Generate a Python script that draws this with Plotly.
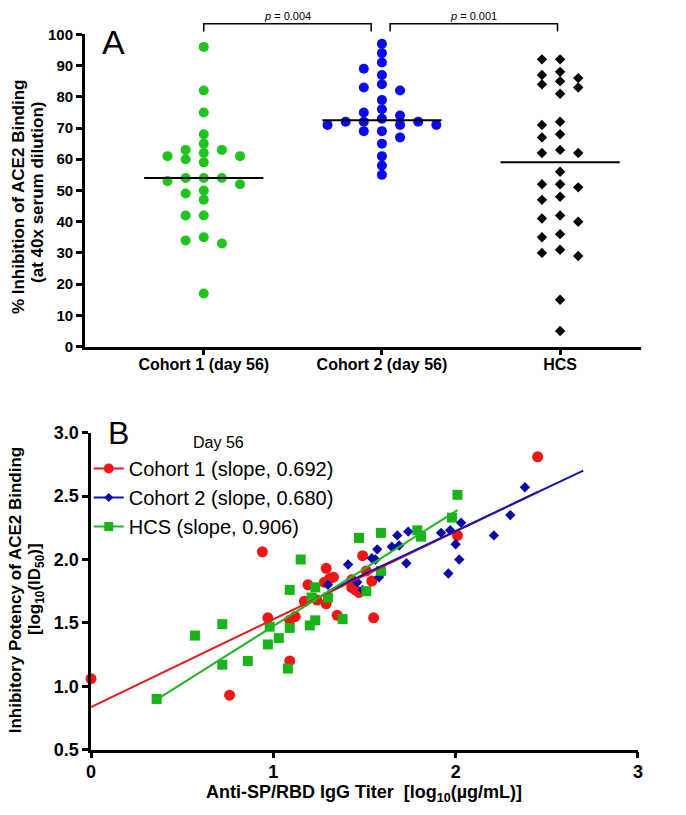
import numpy as np
import plotly.graph_objects as go

# ---------------- Panel A data (% inhibition at 40x serum dilution) ----------------
groups_a = ["Cohort 1 (day 56)", "Cohort 2 (day 56)", "HCS"]
cohort1_pct = [96, 82, 75, 68, 65, 63, 63, 62, 61, 61, 60, 59, 54, 54, 54, 53, 52,
               50, 49, 47, 42, 42, 35, 34, 33, 17]
cohort2_pct = [97, 94, 91, 89, 87, 84, 83, 82, 79, 76, 75, 74, 73, 72, 72, 72, 71,
               71, 71, 69, 69, 67, 65, 61, 58, 55]
hcs_pct = [92, 92, 88, 87, 86, 85, 84, 83, 81, 72, 71, 68, 67, 63, 62, 62, 56, 52,
           52, 51, 48, 47, 42, 41, 40, 36, 35, 31, 30, 29, 15, 5]
p_values = ["0.004", "0.001"]

# ---------------- Panel B data (log10 IgG titer vs log10 ID50) ----------------
series_b = ["Cohort 1", "Cohort 2", "HCS"]
slopes_b = [0.692, 0.680, 0.906]
fit_x_start = [0.00, 1.30, 0.36]
fit_x_end = [2.45, 2.70, 2.01]
c1_igg = [0.00, 0.76, 0.94, 1.09, 0.97, 1.09, 1.12, 1.17, 1.24, 1.29, 1.19, 1.28, 1.31,
          1.33, 1.29, 1.35, 1.43, 1.43, 1.45, 1.47, 1.49, 1.51, 1.54, 1.55, 2.01, 2.45]
c1_id50 = [1.06, 0.93, 2.06, 1.20, 1.54, 1.52, 1.55, 1.67, 1.68, 1.65, 1.80, 1.82, 1.85,
           1.86, 1.93, 1.56, 1.84, 1.78, 1.76, 1.74, 2.03, 1.91, 1.83, 1.54, 2.19, 2.81]
c2_igg = [1.30, 1.41, 1.46, 1.49, 1.54, 1.56, 1.57, 1.58, 1.59, 1.65, 1.69, 1.68, 1.74,
          1.73, 1.92, 1.97, 2.03, 2.00, 2.02, 1.96, 2.21, 2.30, 2.38]
c2_id50 = [1.80, 1.96, 1.82, 1.76, 2.01, 2.00, 2.08, 1.86, 1.89, 2.10, 2.11, 2.19, 2.22,
           1.97, 2.21, 2.23, 2.29, 2.12, 2.00, 1.89, 2.19, 2.35, 2.57]
hcs_igg = [0.36, 0.57, 0.72, 0.72, 0.86, 0.97, 0.98, 1.03, 1.09, 1.08, 1.15, 1.09, 1.23,
           1.21, 1.30, 1.20, 1.23, 1.38, 1.51, 1.47, 1.59, 1.79, 1.81, 1.59, 1.98, 2.01]
hcs_id50 = [0.90, 1.40, 1.49, 1.17, 1.20, 1.33, 1.47, 1.38, 1.46, 1.14, 2.00, 1.76, 1.78,
            1.70, 1.70, 1.48, 1.52, 1.53, 1.75, 2.17, 2.21, 2.23, 2.18, 1.91, 2.33, 2.51]

W, H = 686, 815
FONT = "Arial, Liberation Sans, Helvetica, sans-serif"


def px_x(p):
    return p / W


def px_y(p):
    return 1 - p / H


# panel A geometry (pixels)
A_left, A_right, A_top, A_bottom = 81.0, 645.0, 25.0, 345.0
cat0_px, cat_step_px = 201.7, 180.8
A_range = [(A_left - cat0_px) / cat_step_px, (A_right - cat0_px) / cat_step_px]
px_per_pct = (A_bottom - A_top) / 100.0


def swarm_offsets(values, diam_px, step_px):
    vals = np.asarray(values, dtype=float)
    order = np.argsort(-vals, kind="stable")
    cands = [0]
    for k in range(1, 30):
        cands += [-k, k]
    placed = []
    offs = np.zeros(len(vals))
    for i in order:
        y = vals[i] * px_per_pct
        for c in cands:
            if all(not (abs(c - cj) <= 1 and abs(y - yj) < diam_px) for cj, yj in placed):
                placed.append((c, y))
                offs[i] = c * step_px / cat_step_px
                break
    return offs


fig = go.Figure()

a_sets = [
    (cohort1_pct, "circle", 10, "#1fc41f", 9.0),
    (cohort2_pct, "circle", 10, "#0a0aee", 9.0),
    (hcs_pct, "diamond", 8, "#000000", 7.0),
]
for gi, (vals, sym, size, col, dpx) in enumerate(a_sets):
    offs = swarm_offsets(vals, dpx, 9.2)
    fig.add_trace(go.Scatter(
        x=gi + offs, y=vals, mode="markers", xaxis="x", yaxis="y",
        marker=dict(symbol=sym, size=size, color=col, line=dict(width=0)),
        showlegend=False, cliponaxis=False, hoverinfo="skip"))
    med = float(np.median(vals))
    half = 60.5 / cat_step_px
    fig.add_trace(go.Scatter(
        x=[gi - half, gi + half], y=[med, med], mode="lines", xaxis="x", yaxis="y",
        line=dict(color="black", width=2), showlegend=False, hoverinfo="skip"))

# ---------------- Panel B ----------------
b_sets = [
    (c1_igg, c1_id50, "circle", 11, "#f01616", "#e01e1e"),
    (c2_igg, c2_id50, "diamond", 8, "#0a0aa8", "#1414b0"),
    (hcs_igg, hcs_id50, "square", 10, "#19b419", "#25b425"),
]
for si, (xs, ys, sym, size, col, lcol) in enumerate(b_sets):
    fig.add_trace(go.Scatter(
        x=xs, y=ys, mode="markers", xaxis="x2", yaxis="y2",
        marker=dict(symbol=sym, size=size, color=col, line=dict(width=0)),
        showlegend=False, cliponaxis=False, hoverinfo="skip"))
for si, (xs, ys, sym, size, col, lcol) in enumerate(b_sets):
    xs = np.asarray(xs)
    ys = np.asarray(ys)
    slope = slopes_b[si]
    icpt = ys.mean() - slope * xs.mean()
    lx = np.array([fit_x_start[si], fit_x_end[si]])
    fig.add_trace(go.Scatter(
        x=lx, y=icpt + slope * lx, mode="lines", xaxis="x2", yaxis="y2",
        line=dict(color=lcol, width=2), showlegend=False, hoverinfo="skip"))
# legend entries
for si, (xs, ys, sym, size, col, lcol) in enumerate(b_sets):
    fig.add_trace(go.Scatter(
        x=[None], y=[None], mode="lines+markers", xaxis="x2", yaxis="y2",
        name=f"{series_b[si]} (slope, {slopes_b[si]:.3f})", legendgroup=f"g{si}",
        marker=dict(symbol=sym, size=size - 1, color=col, line=dict(width=0)),
        line=dict(color=lcol, width=2)))

B_left, B_right, B_top, B_bottom = 87.3, 642.3, 433.3, 758.3

axis_common = dict(showline=True, linecolor="black", linewidth=2.5, ticks="outside",
                   ticklen=6, tickwidth=2.5, tickcolor="black", showgrid=False,
                   zeroline=False, mirror=False)

fig.update_layout(
    width=W, height=H, margin=dict(l=0, r=0, t=0, b=0),
    paper_bgcolor="white", plot_bgcolor="white",
    font=dict(family=FONT, color="black"),
    xaxis=dict(domain=[px_x(A_left), px_x(A_right)], range=A_range,
               tickmode="array", tickvals=[0, 1, 2], ticktext=groups_a,
               tickfont=dict(size=16, weight="bold", family=FONT), anchor="y",
               ticklabelstandoff=-4, **axis_common),
    yaxis=dict(domain=[px_y(A_bottom), px_y(A_top)], range=[0, 100], dtick=10,
               tickfont=dict(size=15, weight="bold", family=FONT), anchor="x",
               **axis_common),
    xaxis2=dict(domain=[px_x(B_left), px_x(B_right)], range=[0, 3], dtick=1,
                tickfont=dict(size=18, weight="bold", family=FONT), anchor="y2",
                ticklabelstandoff=-2, **axis_common),
    yaxis2=dict(domain=[px_y(B_bottom), px_y(B_top)], range=[0.5, 3.0], dtick=0.5,
                tickformat=".1f",
                tickfont=dict(size=18, weight="bold", family=FONT), anchor="x2",
                **axis_common),
    showlegend=True,
    legend=dict(x=px_x(85), y=px_y(450), xanchor="left", yanchor="top",
                font=dict(size=20, family=FONT), bgcolor="rgba(0,0,0,0)",
                itemwidth=30, tracegroupgap=0, traceorder="grouped"),
)

ann = []


def add_text(x, y, text, size, bold=False, angle=0, xref="paper"):
    f = dict(size=size, family=FONT, color="black")
    if bold:
        f["weight"] = "bold"
    ann.append(dict(x=x, y=y, xref=xref, yref="paper", text=text, showarrow=False,
                    textangle=angle, xanchor="center", yanchor="middle", font=f))


# axis titles
add_text(px_x(14), px_y(191), "% Inhibition of ACE2 Binding", 17, True, -90)
add_text(px_x(33), px_y(187), "(at 40x serum dilution)", 17, True, -90)
add_text(px_x(11), px_y(594), "Inhibitory Potency of ACE2 Binding", 17, True, -90)
add_text(px_x(32), px_y(594), "[log<sub>10</sub>(ID<sub>50</sub>)]", 17, True, -90)
add_text(px_x(364), px_y(803), "Anti-SP/RBD IgG Titer  [log<sub>10</sub>(µg/mL)]", 18, True)
# panel letters and legend heading
add_text(px_x(110), px_y(33), "A", 34)
add_text(px_x(115), px_y(434), "B", 32)
add_text(px_x(217), px_y(443), "Day 56", 16)

# significance brackets
shapes = []
brackets = [(0.0, 1 - 10.9 / cat_step_px), (1 + 8.3 / cat_step_px, 2 - 2.6 / cat_step_px)]
for bi, (x0, x1) in enumerate(brackets):
    y_top, y_tip = px_y(14), px_y(22)
    shapes.append(dict(type="path", xref="x", yref="paper",
                       path=f"M {x0},{y_tip} L {x0},{y_top} L {x1},{y_top} L {x1},{y_tip}",
                       line=dict(color="black", width=1.5)))
    add_text((x0 + x1) / 2, px_y(6), f"<i>p</i> = {p_values[bi]}", 11, xref="x")

fig.update_layout(annotations=ann, shapes=shapes)
fig.write_html("out.html", config={"displayModeBar": False},
               post_script="document.body.style.margin='0px';")
